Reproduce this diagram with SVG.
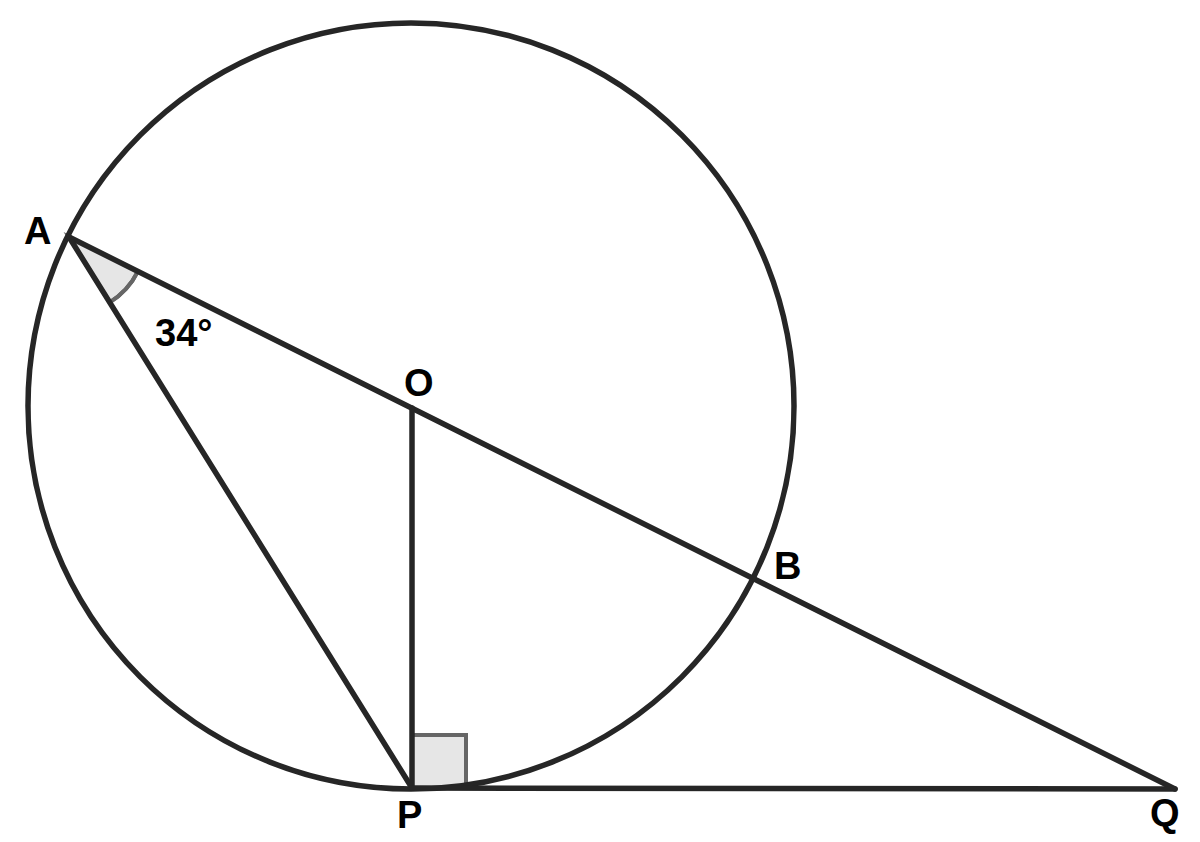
<svg xmlns="http://www.w3.org/2000/svg" width="1200" height="842" viewBox="0 0 1200 842">
<style>
.ln{stroke:#262626;stroke-width:5.5;fill:none;stroke-linecap:round;stroke-linejoin:round}
.mk{fill:#e6e6e6;stroke:#666;stroke-width:4}
.lb{font-family:"Liberation Sans",Arial,sans-serif;font-weight:bold;font-size:38px;fill:#000}
</style>
<rect width="1200" height="842" fill="#fff"/>
<g id="marks">
<path class="mk" d="M69,237 L109.7,302.4 A77,77 0 0 0 137.9,271.4 Z" stroke="none"/>
<path d="M109.7,302.4 A77,77 0 0 0 137.9,271.4" fill="none" stroke="#666" stroke-width="4"/>
<rect class="mk" x="412" y="735" width="54" height="53"/>
</g>
<g id="circle">
<circle class="ln" cx="411" cy="406" r="383"/>
</g>
<g id="connectors">
<line class="ln" x1="69" y1="237" x2="1175" y2="789"/>
<line class="ln" x1="69" y1="237" x2="412" y2="788"/>
<line class="ln" x1="412" y1="408" x2="412" y2="788"/>
<line class="ln" x1="412" y1="788" x2="1175" y2="789"/>
</g>
<g id="labels">
<text class="lb" x="24" y="244">A</text>
<text class="lb" x="155" y="346">34°</text>
<text class="lb" x="404" y="396">O</text>
<text class="lb" x="774" y="579">B</text>
<text class="lb" x="397" y="828">P</text>
<text class="lb" x="1150" y="826">Q</text>
</g>
</svg>
